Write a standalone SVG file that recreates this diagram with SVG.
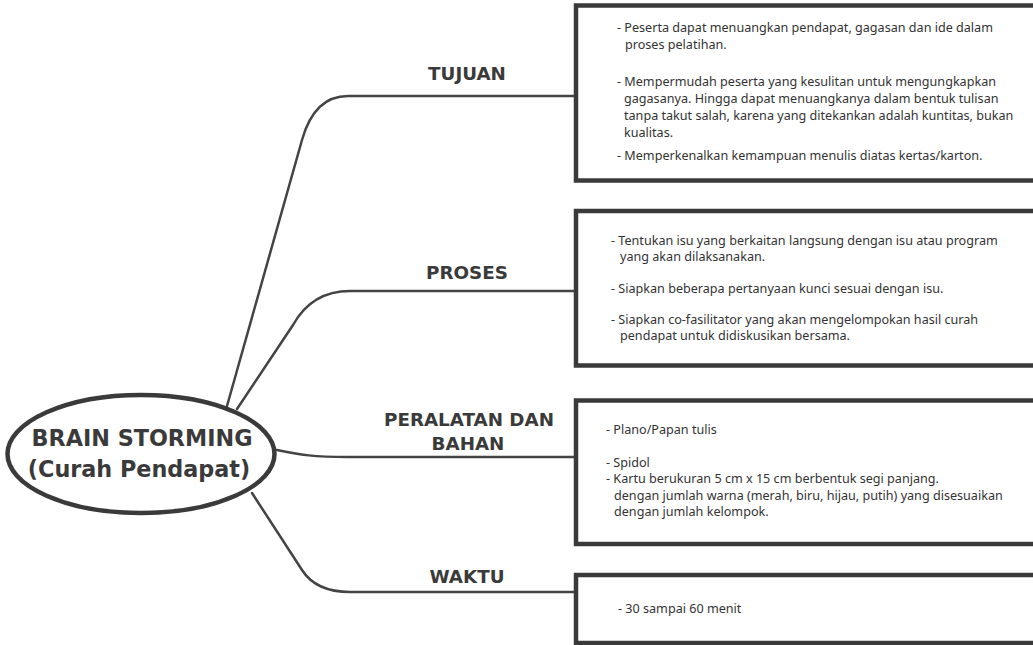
<svg xmlns="http://www.w3.org/2000/svg" width="1033" height="645" viewBox="0 0 1033 645">
<style>
.conn{fill:none;stroke:#444;stroke-width:2.5;stroke-linecap:round}
.box{fill:#fff;stroke:#3a3a3a;stroke-width:4.5}
.lbl{font-family:"DejaVu Sans",Verdana,sans-serif;font-weight:bold;font-size:18.3px;fill:#3a3a3a;text-anchor:middle}
.title{font-family:"DejaVu Sans",Verdana,sans-serif;font-weight:bold;font-size:22.3px;fill:#3a3a3a;text-anchor:middle}
.body{font-family:"Noto Sans","DejaVu Sans",sans-serif;font-size:12.6px;fill:#333}
</style>
<rect width="1033" height="645" fill="#fff"/>
<g id="connectors">
<path class="conn" d="M227,406 L302,140 C309,115 322,96 348,96 L576,96"/>
<path class="conn" d="M237,409 L293,325 C303,307 320,291 350,291 L576,291"/>
<path class="conn" d="M277,450 C300,455 315,457 347,457 L576,457"/>
<path class="conn" d="M252,493 L302,570 C311,584 325,592 350,592 L576,592"/>
</g>
<g id="center">
<ellipse cx="141" cy="454" rx="133.5" ry="59" fill="#fff" stroke="#3a3a3a" stroke-width="4.5"/>
<text class="title" x="142" y="446">BRAIN STORMING</text>
<text class="title" x="139" y="477">(Curah Pendapat)</text>
</g>
<g id="tujuan">
<text class="lbl" x="467" y="80">TUJUAN</text>
<rect class="box" x="576" y="5.5" width="470" height="175"/>
<text class="body" x="617" y="32">- Peserta dapat menuangkan pendapat, gagasan dan ide dalam</text>
<text class="body" x="625" y="49">proses pelatihan.</text>
<text class="body" x="617" y="86">- Mempermudah peserta yang kesulitan untuk mengungkapkan</text>
<text class="body" x="624" y="103">gagasanya. Hingga dapat menuangkanya dalam bentuk tulisan</text>
<text class="body" x="624" y="120">tanpa takut salah, karena yang ditekankan adalah kuntitas, bukan</text>
<text class="body" x="624" y="137">kualitas.</text>
<text class="body" x="617" y="160">- Memperkenalkan kemampuan menulis diatas kertas/karton.</text>
</g>
<g id="proses">
<text class="lbl" x="467" y="279">PROSES</text>
<rect class="box" x="576" y="211" width="470" height="154.5"/>
<text class="body" x="611" y="245">- Tentukan isu yang berkaitan langsung dengan isu atau program</text>
<text class="body" x="620" y="261">yang akan dilaksanakan.</text>
<text class="body" x="611" y="293">- Siapkan beberapa pertanyaan kunci sesuai dengan isu.</text>
<text class="body" x="611" y="324">- Siapkan co-fasilitator yang akan mengelompokan hasil curah</text>
<text class="body" x="620" y="340">pendapat untuk didiskusikan bersama.</text>
</g>
<g id="peralatan">
<text class="lbl" x="469" y="426">PERALATAN DAN</text>
<text class="lbl" x="468" y="450">BAHAN</text>
<rect class="box" x="576" y="400.5" width="470" height="143.5"/>
<text class="body" x="606" y="434">- Plano/Papan tulis</text>
<text class="body" x="606" y="467">- Spidol</text>
<text class="body" x="606" y="483">- Kartu berukuran 5 cm x 15 cm berbentuk segi panjang.</text>
<text class="body" x="614" y="500">dengan jumlah warna (merah, biru, hijau, putih) yang disesuaikan</text>
<text class="body" x="614" y="516">dengan jumlah kelompok.</text>
</g>
<g id="waktu">
<text class="lbl" x="467" y="583">WAKTU</text>
<rect class="box" x="576" y="575" width="470" height="68"/>
<text class="body" x="618" y="613">- 30 sampai 60 menit</text>
</g>
</svg>
